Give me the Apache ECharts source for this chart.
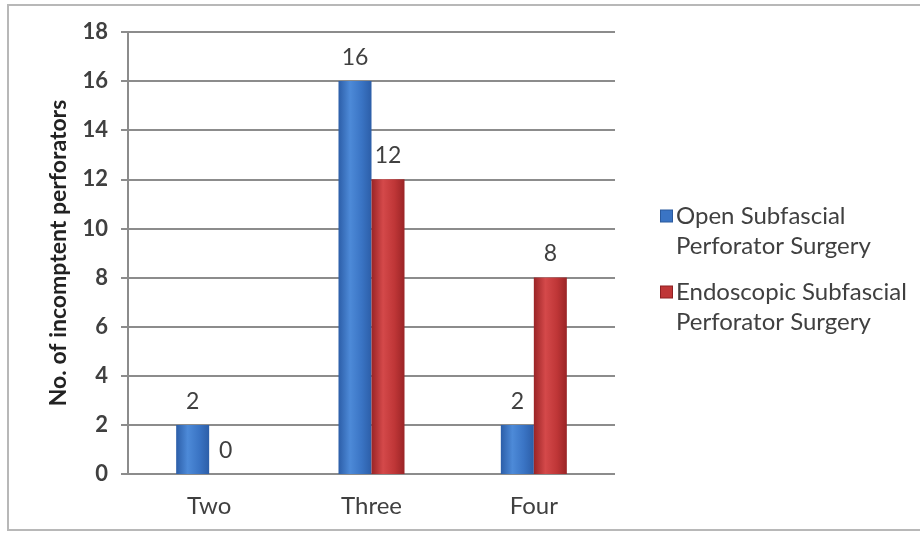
<!DOCTYPE html>
<html>
<head>
<meta charset="utf-8">
<script src="https://cdn.jsdelivr.net/npm/echarts@6/dist/echarts.min.js"></script>
<style>
  html, body { margin: 0; padding: 0; background: #fff; }
  #chart { width: 920px; height: 533px; }
</style>
</head>
<body>
<div id="chart"></div>
<script>
// Number of incompetent perforators by group
const categories = ['Two', 'Three', 'Four'];
const openSurgery = [2, 16, 2];
const endoscopicSurgery = [0, 12, 8];
const seriesNames = ['Open Subfascial Perforator Surgery', 'Endoscopic Subfascial Perforator Surgery'];
const legendLines = {
  'Open Subfascial Perforator Surgery': ['Open Subfascial', 'Perforator Surgery'],
  'Endoscopic Subfascial Perforator Surgery': ['Endoscopic Subfascial', 'Perforator Surgery']
};
const yTicks = { min: 0, max: 18, interval: 2 };

const FONT = 'Lato, "Open Sans", sans-serif';
const TEXT = '#404040';
const BLUE = '#3a74c4';
const RED = '#bf3637';

function barGradient(dark, mid, light) {
  return new echarts.graphic.LinearGradient(0, 0, 1, 0, [
    { offset: 0, color: dark },
    { offset: 0.35, color: light },
    { offset: 0.7, color: mid },
    { offset: 1, color: dark }
  ]);
}

const chart = echarts.init(document.getElementById('chart'));
chart.setOption({
  animation: false,
  backgroundColor: '#fff',
  graphic: [{
    type: 'rect',
    shape: { x: 8, y: 5, width: 930, height: 525 },
    style: { fill: 'none', stroke: '#b8b8b8', lineWidth: 2 },
    silent: true
  }],
  grid: { left: 128, right: 305, top: 32, bottom: 59 },
  legend: {
    orient: 'vertical',
    left: 656,
    top: 201,
    padding: 0,
    icon: 'none',
    itemWidth: 0,
    itemHeight: 0,
    itemGap: 16,
    data: seriesNames,
    formatter: function (name) {
      const key = name === seriesNames[0] ? 'b' : 'r';
      const lines = legendLines[name];
      return '{' + key + '|}{g|}{t|' + lines[0] + '}\n{s|}{g|}{t|' + lines[1] + '}';
    },
    textStyle: {
      fontFamily: FONT, fontSize: 24, color: TEXT, lineHeight: 30,
      rich: {
        t: { fontFamily: FONT, fontSize: 24, color: TEXT, lineHeight: 30 },
        b: { width: 11, height: 11, backgroundColor: BLUE, borderColor: '#2a5a9e', borderWidth: 1 },
        r: { width: 11, height: 11, backgroundColor: RED, borderColor: '#8e2022', borderWidth: 1 },
        s: { width: 11, height: 11 },
        g: { width: 4, height: 11 }
      }
    }
  },
  xAxis: {
    type: 'category',
    data: categories,
    axisLine: { show: false },
    axisTick: { show: false },
    axisLabel: { fontFamily: FONT, fontSize: 24, color: TEXT, margin: 20 }
  },
  yAxis: {
    type: 'value',
    min: yTicks.min,
    max: yTicks.max,
    interval: yTicks.interval,
    name: 'No. of incomptent perforators',
    nameLocation: 'middle',
    nameGap: 58,
    nameTextStyle: { fontFamily: FONT, fontSize: 23, fontWeight: 'bold', color: '#222' },
    axisLine: { show: true, lineStyle: { color: '#8c8c8c', width: 2 } },
    axisTick: { show: true, inside: false, length: 7, lineStyle: { color: '#8c8c8c', width: 2 } },
    axisLabel: { fontFamily: FONT, fontSize: 22, fontWeight: 'bold', color: TEXT, margin: 20 },
    splitLine: { lineStyle: { color: '#8c8c8c', width: 2 } }
  },
  series: [
    {
      name: seriesNames[0],
      type: 'bar',
      data: openSurgery,
      barWidth: 33,
      barGap: '0%',
      itemStyle: { color: barGradient('#2c5ea8', BLUE, '#4d8ad8') },
      label: { show: true, position: 'top', distance: 12, fontFamily: FONT, fontSize: 23, color: TEXT }
    },
    {
      name: seriesNames[1],
      type: 'bar',
      data: endoscopicSurgery,
      barWidth: 33,
      itemStyle: { color: barGradient('#9a2426', RED, '#d4494a') },
      label: { show: true, position: 'top', distance: 12, fontFamily: FONT, fontSize: 23, color: TEXT }
    }
  ]
});
</script>
</body>
</html>
